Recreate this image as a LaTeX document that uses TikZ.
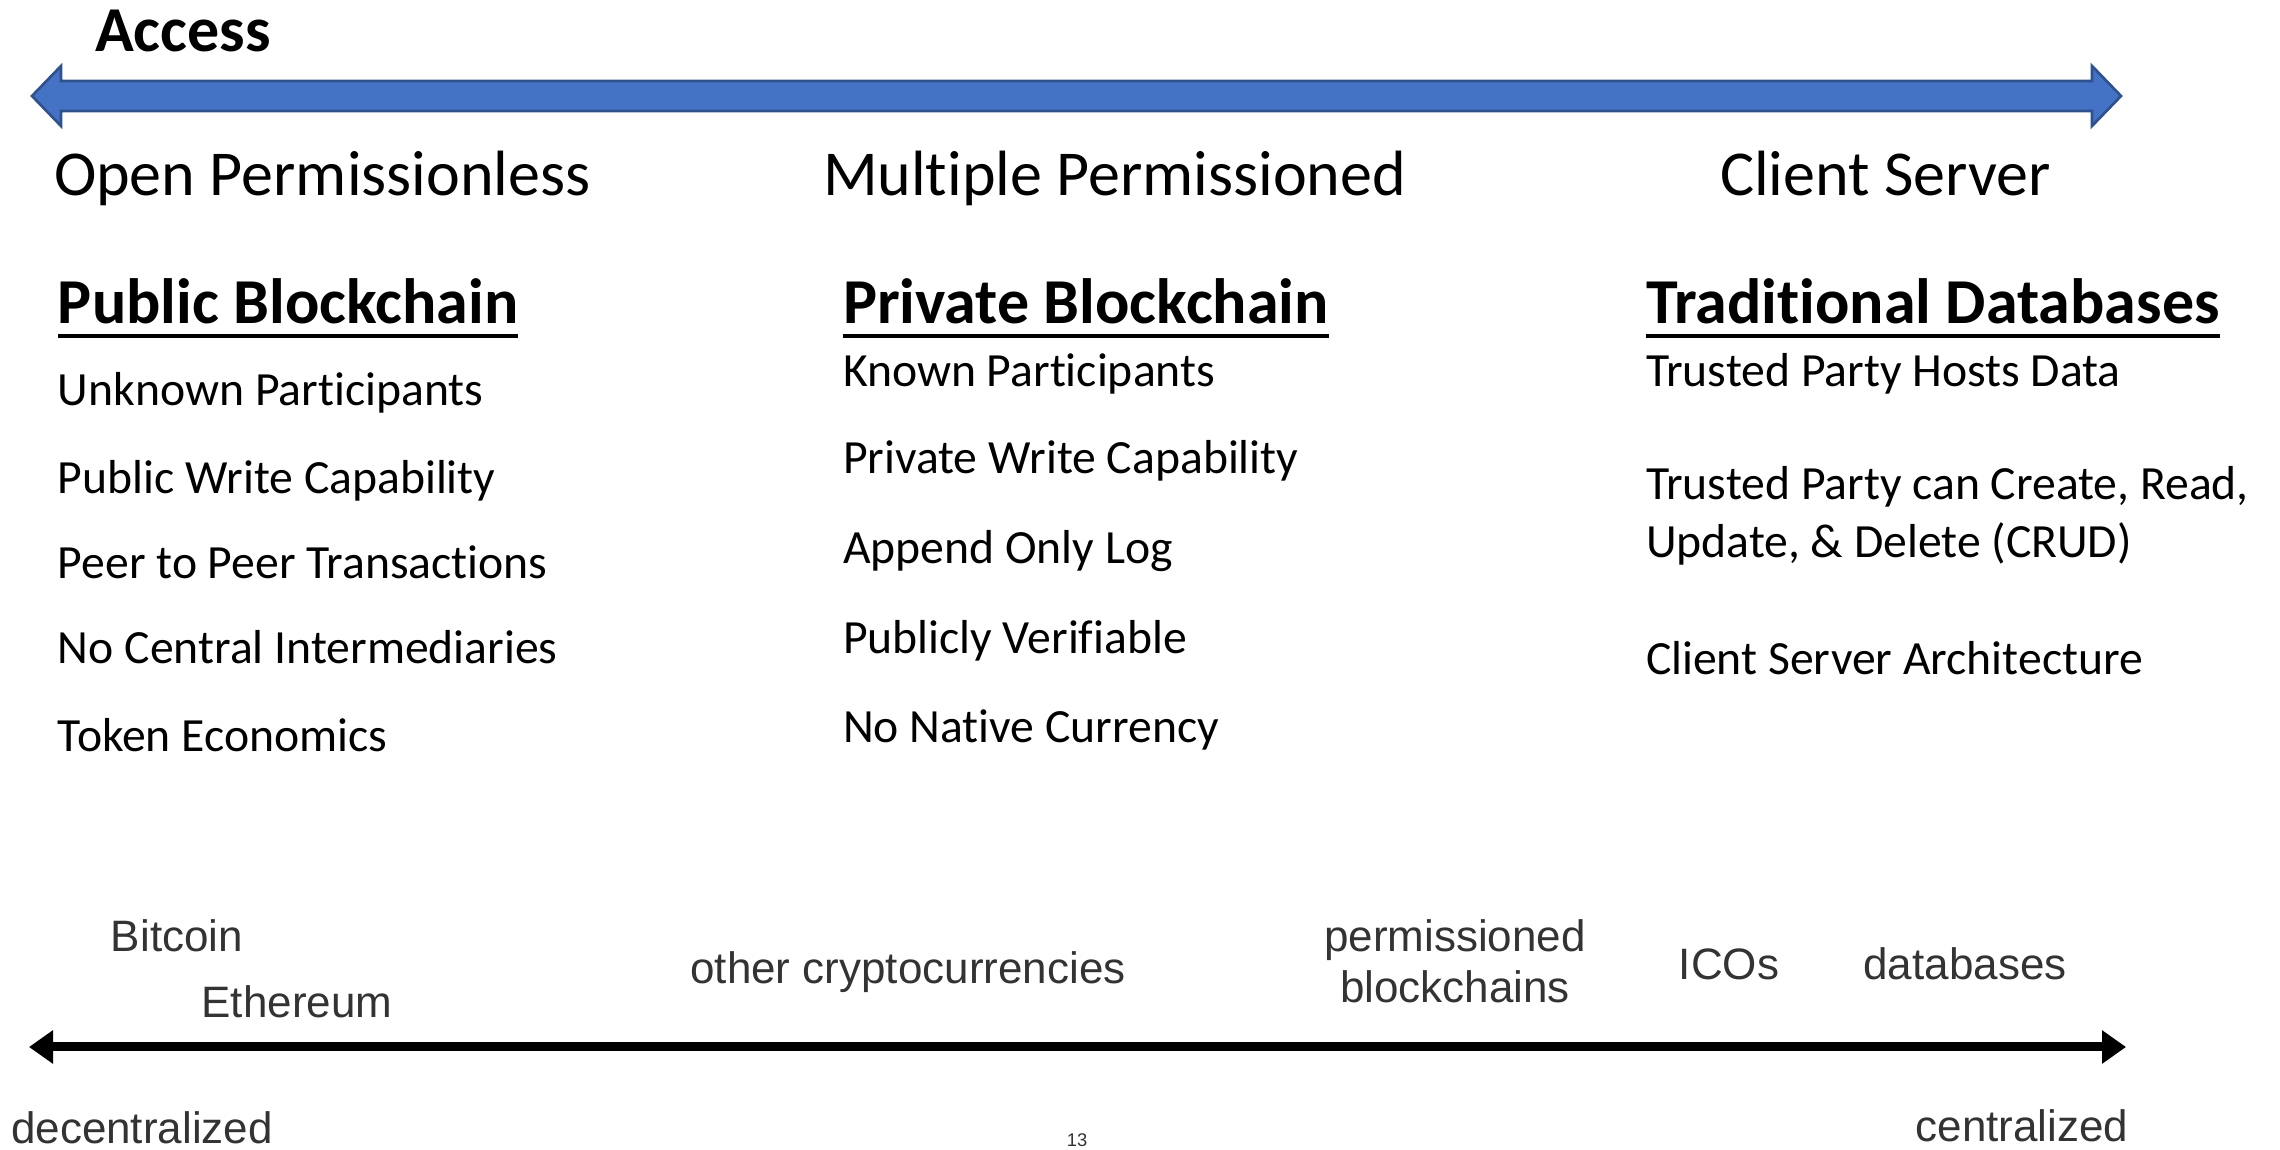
\documentclass[tikz,border=0pt]{standalone}
\usepackage{fontspec}
\setmainfont[RawFeature={-liga;-clig;-calt;-dlig}]{Carlito}
\newfontfamily\helv{Liberation Sans}
\usetikzlibrary{arrows.meta}
\definecolor{accblue}{HTML}{4472C4}
\definecolor{accborder}{HTML}{2F528F}
\tikzset{
	every node/.style={inner sep=0pt, outer sep=0pt},
	title/.style={font=\fontsize{19.2}{23}\selectfont, anchor=base west},
	head/.style={font=\fontsize{19.2}{23}\selectfont\bfseries, anchor=base west},
	item/.style={font=\fontsize{14.3}{17}\selectfont, anchor=base west},
	tag/.style={font=\helv\fontsize{13.2}{16}\selectfont, text=black!80, anchor=base},
	uline/.style={line width=1.2pt},
	blockarrow/.style={fill=accblue, draw=accborder, line width=0.8pt},
	axis/.style={line width=2.7pt, {Triangle[length=7.2pt,width=9.6pt]}-{Triangle[length=7.2pt,width=9.6pt]}}
}
\begin{document}
\begin{tikzpicture}[x=0.3pt, y=-0.3pt]
		\useasboundingbox (0,0) rectangle (2280,1150);
			%   %   %   %   %   %   %   %   %   %   %
			%   Access arrow
				\draw (95,52)  node[head] (access) {Access};
				\coordinate (accL) at (32,96);
				\coordinate (accR) at (2121,96);
				\draw[blockarrow] (accL) -- ++(29,-30) -- ++(0,15) -- ([shift={(-29,-15)}]accR) -- ++(0,-15)
					-- (accR) -- ++(-29,30) -- ++(0,-15) -- ([shift={(29,15)}]accL) -- ++(0,15) -- cycle;
			%   %   %   %   %   %   %   %   %   %   %
			%   Column titles
				\draw (54,196)  node[title] (open) {Open Permissionless};
				\draw (823,196)  node[title] (multi) {Multiple Permissioned};
				\draw (1720,196)  node[title] (client) {Client Server};
			%   %   %   %   %   %   %   %   %   %   %
			%   Public blockchain
				\draw (58,324)  node[head] (pub) {Public Blockchain};
				\draw[uline] ([yshift=-3.6pt]pub.base west) -- ([yshift=-3.6pt]pub.base east);
				\draw (58,406)  node[item] (pub1) {Unknown Participants};
				\draw (58,494)  node[item] (pub2) {Public Write Capability};
				\draw (58,579)  node[item] (pub3) {Peer to Peer Transactions};
				\draw (58,664)  node[item] (pub4) {No Central Intermediaries};
				\draw (58,752)  node[item] (pub5) {Token Economics};
			%   %   %   %   %   %   %   %   %   %   %
			%   Private blockchain
				\draw (843,324)  node[head] (priv) {Private Blockchain};
				\draw[uline] ([yshift=-3.6pt]priv.base west) -- ([yshift=-3.6pt]priv.base east);
				\draw (843,387)  node[item] (priv1) {Known Participants};
				\draw (843,474)  node[item] (priv2) {Private Write Capability};
				\draw (843,564)  node[item] (priv3) {Append Only Log};
				\draw (843,654)  node[item] (priv4) {Publicly Verifiable};
				\draw (843,743)  node[item] (priv5) {No Native Currency};
			%   %   %   %   %   %   %   %   %   %   %
			%   Traditional databases
				\draw (1646,324)  node[head] (trad) {Traditional Databases};
				\draw[uline] ([yshift=-3.6pt]trad.base west) -- ([yshift=-3.6pt]trad.base east);
				\draw (1646,387)  node[item] (trad1) {Trusted Party Hosts Data};
				\draw (1646,500)  node[item] (trad2) {Trusted Party can Create, Read,};
				\draw (1646,558)  node[item] (trad3) {Update, \& Delete (CRUD)};
				\draw (1646,675)  node[item] (trad4) {Client Server Architecture};
			%   %   %   %   %   %   %   %   %   %   %
			%   Examples
				\draw (177,952)  node[tag] (btc) {Bitcoin};
				\draw (297,1018)  node[tag] (eth) {Ethereum};
				\draw (908,984)  node[tag] (other) {other cryptocurrencies};
				\draw (1455,952)  node[tag] (perm) {permissioned};
				\draw (1455,1003)  node[tag] (bc) {blockchains};
				\draw (1729,980)  node[tag] (ico) {ICOs};
				\draw (1965,980)  node[tag] (db) {databases};
			%   %   %   %   %   %   %   %   %   %   %
			%   Decentralization axis
				\coordinate (decL) at (29,1047);
				\coordinate (decR) at (2126,1047);
				\draw[axis] (decL) -- (decR);
				\draw (142,1143)  node[tag] (dec) {decentralized};
				\draw (2022,1141)  node[tag] (cen) {centralized};
				\draw (1077,1147)  node[tag, font=\helv\fontsize{5.5}{7}\selectfont] (page) {13};
\end{tikzpicture}
\end{document}
